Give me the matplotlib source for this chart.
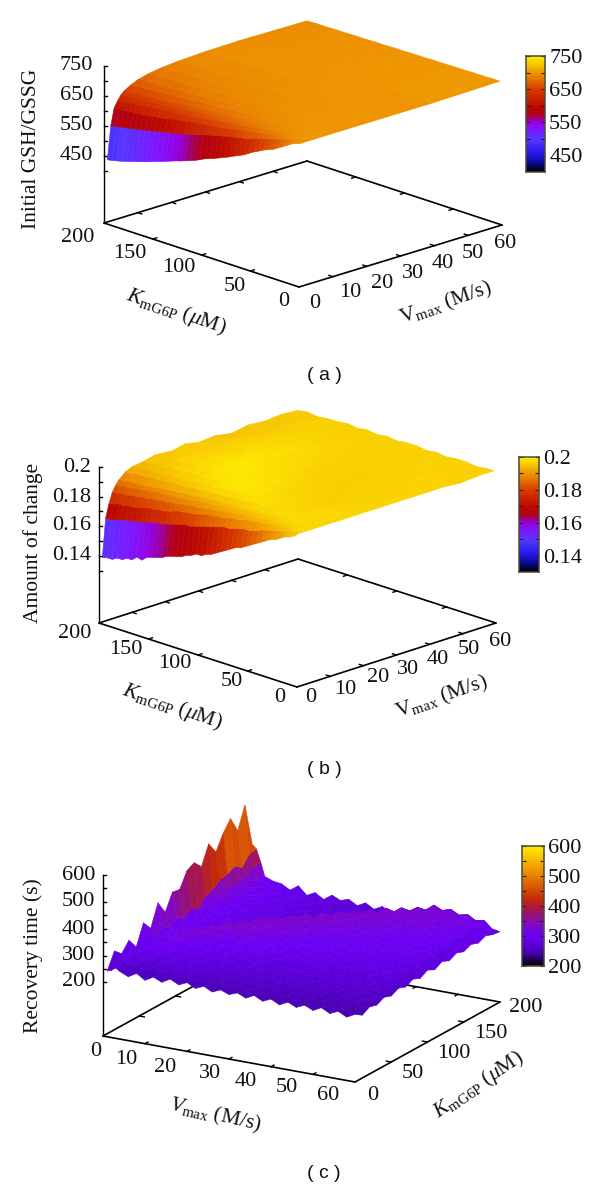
import numpy as np
import matplotlib
matplotlib.use("Agg")
import matplotlib.pyplot as plt
from matplotlib.colors import LinearSegmentedColormap, Normalize
from mpl_toolkits.mplot3d import proj3d

plt.rcParams['font.family'] = ['Liberation Serif', 'DejaVu Sans']
plt.rcParams['mathtext.fontset'] = 'custom'
plt.rcParams['mathtext.rm'] = 'Liberation Serif'
plt.rcParams['mathtext.it'] = 'Liberation Serif:italic'
plt.rcParams['mathtext.bf'] = 'Liberation Serif:bold'

# ---------- data ----------
KM_FINE = [200,195,190,185,180,175,170,165,160,155,150,145,140,135,130,125,120,115,110,105,100,
           95,90,85,80,75,70,65,60,55,50,45,40,35,30,25,20,15,10,5,2]
KM_COARSE = [200,190,180,170,160,150,140,130,120,110,100,90,80,70,60,50,40,30,20,10,2]
VMAX_NEAR = [1,2,3,4,5,6,8]
VMAX_FAR_A = [8,10,13,17,22,30,40,60]
VMAX_FAR_B = [8,10,13,17,22,26,30,35,40,45,50,55,60]

GSH_NEAR = [
 [434,437,441,445,450,455,460,465,470,476,482,487,493,499,505,510,516,522,528,536,544,550,556,563,570,577,585,592,600,610,620,628,637,644,650,660,670,680,690,696,699],
 [544,547,550,553,556,560,563,567,570,574,577,581,585,588,592,596,600,605,610,615,620,624,628,632,637,640,644,647,650,655,660,665,670,675,680,685,690,693,696,699,700],
 [600,602,603,605,606,608,610,612,614,617,620,622,625,628,631,634,637,640,642,644,646,648,650,653,656,660,663,667,670,673,676,680,683,686,690,692,694,696,698,699,700],
 [620,622,624,626,628,630,632,634,637,638,640,642,644,645,647,648,650,652,655,657,660,662,665,667,670,672,675,677,680,682,685,687,690,691,693,694,696,697,699,700,700],
 [637,638,639,641,643,644,645,646,648,649,650,652,654,656,658,660,662,664,666,668,670,672,674,676,678,680,682,684,686,688,690,691,692,693,695,696,697,698,700,700,700],
 [647,647,648,649,650,652,654,655,656,658,660,661,663,665,667,668,670,672,674,675,676,678,680,681,683,684,686,688,690,691,692,693,694,695,696,697,698,699,700,700,700],
 [660,661,662,663,665,666,668,669,670,671,672,673,675,676,678,679,680,681,682,683,685,686,687,688,690,690,691,692,693,694,695,695,696,697,698,698,699,699,700,700,700],
]
GSH_FAR = [
 [660,662,665,668,670,672,675,678,680,682,685,687,690,691,693,695,696,698,699,700,700],
 [670,672,674,675,678,680,682,683,686,687,690,691,692,694,695,696,697,698,700,700,700],
 [679,680,682,683,685,687,688,690,691,692,693,694,695,696,697,698,699,699,700,700,700],
 [686,687,688,689,691,691,692,693,694,694,695,696,697,697,698,699,699,700,700,700,700],
 [691,691,692,692,693,693,694,694,695,695,696,696,697,698,698,699,699,700,700,700,700],
 [695,695,696,696,696,697,697,697,698,698,698,699,699,699,700,700,700,700,700,700,700],
 [697,697,697,698,698,698,698,699,699,699,699,700,700,700,700,700,700,700,700,700,700],
 [694,695,695,696,696,697,697,698,698,699,699,700,700,701,701,702,702,703,703,704,704],
]

# amount of change, in thousandths
AMOUNT_NEAR = [
 [138,139,139,141,141,143,143,146,145,148,149,150,151,153,154,155,156,158,159,161,161,163,164,166,168,170,172,174,175,177,179,181,183,185,187,188,190,192,193,195,197],
 [164,164,165,166,167,168,168,169,170,171,172,172,173,174,175,176,177,177,178,179,180,181,182,183,184,184,185,186,187,187,188,189,190,191,192,193,194,195,196,197,197],
 [173,174,175,175,176,176,177,178,179,179,180,180,181,182,183,183,184,184,185,186,187,187,188,188,189,190,190,191,192,192,193,193,194,194,195,195,196,196,197,197,197],
 [180,180,181,181,182,182,183,183,184,184,185,185,186,186,187,187,188,188,189,189,190,190,191,191,192,192,193,193,194,194,194,195,195,195,196,196,197,197,197,197,197],
 [184,184,185,185,186,186,187,187,188,188,188,189,189,189,190,190,191,191,192,192,192,193,193,193,194,194,195,195,195,196,196,196,196,197,197,197,197,197,197,197,197],
 [187,187,188,188,188,188,189,189,190,190,191,191,191,192,192,192,193,193,193,194,194,194,194,195,195,195,195,196,196,196,196,197,197,197,197,198,198,198,198,197,197],
 [191,191,192,192,192,193,193,193,193,194,194,194,194,195,195,195,196,196,196,196,196,197,197,197,197,198,198,198,198,198,198,198,198,198,198,198,197,197,197,197,197],
]
AMOUNT_FAR = [
 [191,192,192,193,193,194,194,195,196,196,196,197,197,198,198,198,198,198,197,197,197],
 [193,193,194,194,195,195,196,197,197,198,198,198,199,198,198,197,197,197,197,197,197],
 [194,195,195,196,196,197,197,198,198,199,199,199,198,198,197,197,197,197,197,197,197],
 [196,195,196,197,197,198,198,199,199,199,199,198,198,197,197,197,196,197,197,197,197],
 [195,196,197,197,198,198,199,199,199,198,198,198,197,197,196,197,196,196,197,197,197],
 [197,196,196,197,198,198,199,199,198,198,198,197,197,196,197,196,196,197,196,197,197],
 [195,196,196,197,197,198,199,198,198,198,197,197,196,197,196,196,197,196,197,196,197],
 [196,195,197,197,198,198,198,198,197,197,197,196,197,196,196,197,196,197,196,197,197],
 [194,195,196,196,197,197,198,198,197,197,197,196,196,197,196,196,197,196,197,196,197],
 [196,196,195,197,197,197,197,197,197,196,197,196,197,196,197,196,196,197,197,196,197],
 [195,195,196,196,196,197,197,196,197,197,196,197,196,197,196,197,197,196,197,197,196],
 [196,196,196,197,197,196,196,197,196,196,197,196,197,196,196,197,196,197,196,196,197],
 [195,196,195,196,196,197,196,197,196,197,196,197,197,196,197,196,197,197,196,197,197],
]

KM_C = [0,10,20,30,40,50,60,70,80,90,100,110,120,130,140,150,160,170,180,190,200]
VMAX_C = [1,2,3,4,6,8,10,12,14,16,18,20,22,24,26,28,30,32,34,36,38,40,42,44,46,48,50,52,54,56,58,60]
RECOVERY = [
 [245,305,280,315,275,350,315,395,345,405,400,455,470,440,510,465,520,560,500,580,420],
 [250,285,270,290,275,295,280,305,290,310,295,315,300,335,345,365,370,385,365,400,405],
 [262,274,276,290,278,294,288,296,294,300,298,306,306,318,316,324,326,330,336,350,360],
 [252,262,290,288,304,292,310,294,314,298,316,302,318,306,326,314,330,316,322,308,308],
 [238,268,270,302,304,320,300,316,296,312,292,308,294,310,296,314,300,316,304,304,296],
 [256,252,276,280,306,310,326,306,310,290,306,288,304,290,306,292,308,294,306,288,292],
 [236,268,260,286,286,312,312,330,304,304,282,300,282,298,284,300,286,302,288,300,274],
 [254,248,278,270,294,292,318,316,334,306,302,278,298,276,294,280,296,282,298,284,296],
 [240,268,256,286,276,302,298,324,320,336,306,298,274,294,272,292,278,294,280,296,266],
 [258,250,276,264,292,284,308,304,326,322,332,300,292,270,290,270,290,276,292,278,282],
 [242,260,258,282,272,298,290,314,308,332,324,328,292,286,266,288,268,290,272,292,262],
 [256,250,268,264,288,278,304,296,322,314,334,326,320,284,282,264,286,266,288,270,284],
 [240,262,254,272,270,294,284,310,300,324,316,336,322,312,278,278,262,284,264,286,270],
 [254,246,268,262,280,276,298,290,314,304,328,320,338,316,304,272,274,266,282,262,280],
 [238,260,252,274,266,286,282,302,294,318,308,330,322,336,306,296,266,270,268,276,262],
 [252,244,266,258,280,272,292,286,306,298,322,312,332,324,332,296,288,262,268,266,278],
 [240,258,250,270,264,284,276,296,290,310,302,324,314,334,324,326,290,282,260,266,260],
 [252,242,264,256,274,268,288,280,300,292,312,304,326,318,334,322,316,282,276,256,276],
 [238,258,246,270,260,280,272,292,284,304,296,316,308,328,320,336,316,306,274,272,256],
 [254,242,262,250,274,264,286,276,296,288,308,300,318,310,330,322,336,308,298,268,270],
 [238,256,246,266,256,278,268,290,280,300,292,312,302,320,312,332,324,332,300,290,244],
 [252,240,260,252,270,262,284,272,294,284,304,294,314,304,322,314,334,324,324,292,262],
 [236,256,244,266,256,276,266,288,276,298,286,308,296,316,306,324,316,334,318,316,250],
 [252,238,260,248,272,258,280,270,292,280,300,290,310,298,316,308,326,318,336,312,268],
 [238,254,242,266,252,278,262,286,274,296,284,304,292,310,300,318,310,328,320,336,252],
 [252,240,258,246,272,256,282,268,290,278,298,288,306,294,312,302,320,312,330,322,274],
 [238,256,242,262,252,276,262,286,272,294,282,302,290,308,298,314,306,322,316,332,290],
 [254,238,258,246,268,254,280,266,290,276,298,284,304,292,310,300,316,308,324,316,300],
 [238,254,242,262,250,272,258,284,268,292,278,300,286,306,294,312,302,318,310,324,278],
 [252,240,256,246,268,254,276,262,288,270,294,278,302,288,306,296,312,304,320,306,292],
 [236,252,242,260,248,270,256,280,264,290,272,298,280,302,288,308,294,314,298,312,268],
 [252,234,250,242,256,246,260,250,264,252,268,254,270,258,272,262,274,264,276,266,262],
]

VMAX_TICKS = [0,10,20,30,40,50,60]
KM_TICKS = [0,50,100,150,200]
Z_A_LABELS = ['750','650','550','450']
Z_B_LABELS = ['0.2','0.18','0.16','0.14']
Z_C_LABELS = ['600','500','400','300','200']

# ---------- palettes ----------
def palette(anchors):
    return LinearSegmentedColormap.from_list('pm3d', [(p, tuple(c/255 for c in rgb)) for p, rgb in anchors], N=512)

CMAP_AB = palette([(0,(0,0,0)),(.07,(10,10,130)),(.14,(30,20,230)),(.28,(85,55,255)),(.37,(130,20,255)),
                   (.43,(150,0,220)),(.47,(165,0,90)),(.5,(180,0,20)),(.57,(188,10,0)),(.71,(215,60,0)),
                   (.86,(238,150,0)),(1,(255,240,0))])
CMAP_C = palette([(0,(0,0,0)),(.07,(45,0,110)),(.1,(72,0,172)),(.15,(86,0,208)),(.2,(98,0,228)),(.25,(108,0,245)),
                  (.35,(130,10,190)),(.45,(160,20,90)),(.55,(195,40,10)),(.75,(235,130,0)),(1,(255,240,0))])

fig = plt.figure(figsize=(6, 11.89), dpi=100, facecolor='white')
W, H = 600, 1189
FS = 16

def ptext(x, y, s, **kw):
    kw.setdefault('ha', 'center'); kw.setdefault('va', 'center'); kw.setdefault('fontsize', FS)
    kw.setdefault('color', '#111111')
    fig.text(x/W, 1-y/H, s, **kw)

def panel3d(meshes, zlim, cmap, norm, o, vend, kend, zpx, zmaj):
    A = np.array([vend[0]-o[0], o[1]-vend[1]], float)
    B = np.array([kend[0]-o[0], o[1]-kend[1]], float)
    sin_e = np.sqrt(-A[1]*B[1]/(A[0]*B[0]))
    el = np.arcsin(sin_e)
    s = -np.sign(A[0]); c = s*(A[1]/A[0])/sin_e
    az = np.arctan2(s, c)
    Lx = abs(A[0]/np.sin(az)); Ly = abs(B[0]/np.cos(az)); Lz = zpx/np.cos(el)

    side = 500.0
    ax = fig.add_axes([0.1, 0.1, side/W, side/H], projection='3d', proj_type='ortho')
    ax.computed_zorder = False
    ax.set_axis_off()
    ax.patch.set_visible(False)

    for V, K, Z in meshes:
        Z = np.asarray(Z, float)
        VV, KK = np.meshgrid(np.asarray(V, float), np.asarray(K, float), indexing='ij')
        mean = (Z[:-1,:-1]+Z[1:,:-1]+Z[:-1,1:]+Z[1:,1:])/4
        fc = cmap(norm(mean))
        surf = ax.plot_surface(VV, KK, Z, rstride=1, cstride=1, facecolors=fc, shade=False,
                               linewidth=0.4, antialiased=True, zorder=3)
        surf.set_edgecolor(fc.reshape(-1, 4))

    zb, zt = zlim
    vmax, kmax = 60, 200
    lw = 1.2
    for xs, ys in [((0,vmax),(0,0)), ((0,vmax),(kmax,kmax)), ((0,0),(0,kmax)), ((vmax,vmax),(0,kmax))]:
        ax.plot(xs, ys, (zb, zb), color='black', lw=lw, zorder=1, solid_capstyle='round')
    for v in VMAX_TICKS[1:-1]:
        ax.plot((v,v),(0,4),(zb,zb), color='black', lw=1, zorder=1)
        ax.plot((v,v),(kmax,kmax-4),(zb,zb), color='black', lw=1, zorder=1)
    for k in KM_TICKS[1:-1]:
        ax.plot((0,1.2),(k,k),(zb,zb), color='black', lw=1, zorder=1)
        ax.plot((vmax,vmax-1.2),(k,k),(zb,zb), color='black', lw=1, zorder=1)

    corner_k = kmax if kend[0] < o[0] else 0
    ax.plot((0,0),(corner_k,corner_k),(zb,zt), color='black', lw=1, zorder=1)
    M = np.array([[A[0]/vmax, B[0]/kmax],[A[1]/vmax, B[1]/kmax]])
    dv, dk = np.linalg.solve(M, [3.0, 0.0])
    for z in zmaj:
        ax.plot((0,dv),(corner_k,corner_k+dk),(z,z), color='black', lw=1, zorder=1)

    ax.view_init(elev=np.degrees(el), azim=np.degrees(az))
    ax.set_box_aspect((Lx, Ly, Lz))
    ax.set_xlim(0, vmax, view_margin=0)
    ax.set_ylim(0, kmax, view_margin=0)
    ax.set_zlim(zb, zt, view_margin=0)

    def disp(x, y, z):
        X, Y, _ = proj3d.proj_transform(x, y, z, ax.get_proj())
        return ax.transData.transform((X, Y))
    ax.apply_aspect()
    p0, p1 = disp(0,0,zb), disp(vmax,0,zb)
    side *= np.hypot(*A)/np.hypot(*(p1-p0))
    ax.set_position([0.1, 0.1, side/W, side/H])
    p0 = disp(0,0,zb)
    target = np.array([o[0], H-o[1]], float)
    d = target-p0
    ax.set_position([0.1+d[0]/W, 0.1+d[1]/H, side/W, side/H])
    return ax

def colorbar(x0, y0, x1, y1, lo, hi, cmap, norm, major, minor, labels):
    ax = fig.add_axes([x0/W, 1-y1/H, (x1-x0)/W, (y1-y0)/H])
    ax.imshow(np.linspace(lo, hi, 256)[:, None], origin='lower', extent=[0,1,lo,hi], aspect='auto', cmap=cmap, norm=norm)
    ax.set_xticks([])
    ax.yaxis.tick_right()
    ax.set_yticks(major); ax.set_yticklabels(labels, fontsize=FS, color='#111111')
    ax.set_yticks(minor, minor=True)
    ax.tick_params(axis='y', which='both', direction='in', length=3, width=0.8, left=True, right=True, pad=3, color='#222222')
    for s in ax.spines.values():
        s.set_color('#4a4a3c'); s.set_linewidth(1.1)

KLAB = r"$\mathit{K}_{\mathrm{mG6P}}$ ($\mathit{\mu}$M)"
VLAB_UP = r"$\mathrm{V}_{\mathrm{max}}$ (M/s)"
VLAB_IT = r"$\mathit{V}_{\mathrm{max}}$ (M/s)"
CAPTION = dict(family=['Liberation Sans'], fontsize=14)

# ---------- panel a ----------
norm_a = Normalize(400, 750)
panel3d([(VMAX_NEAR, KM_FINE, GSH_NEAR), (VMAX_FAR_A, KM_COARSE, GSH_FAR)], (227, 750), CMAP_AB, norm_a,
        (299,287), (502,225), (104,223), 157, [750,700,650,600,550,500,450,400])
for y, s in zip((66,96,126,156), Z_A_LABELS):
    ptext(93, y, s, ha='right')
for (x,y), s in zip([(284,302),(235,286),(179,268),(130,253),(78,238)], KM_TICKS):
    ptext(x, y, str(s))
for (x,y), s in zip([(315,303),(350,293),(382,283),(413,274),(443,264),(473,254),(505,244)], VMAX_TICKS):
    ptext(x, y, str(s))
ptext(32, 149, 'Initial GSH/GSSG', rotation=90, fontsize=15.5)
ptext(176, 312, KLAB, rotation=-19, fontsize=15.5)
ptext(446, 303, VLAB_UP, rotation=19, fontsize=15.5)
ptext(324, 375, '( a )', **CAPTION)
colorbar(526, 56, 545, 172, 400, 750, CMAP_AB, norm_a, [450,550,650,750], [500,600,700], Z_A_LABELS[::-1])

# ---------- panel b ----------
norm_b = Normalize(.13, .2)
panel3d([(VMAX_NEAR, KM_FINE, np.asarray(AMOUNT_NEAR, float)/1000),
         (VMAX_FAR_B, KM_COARSE, np.asarray(AMOUNT_FAR, float)/1000)], (.0946, .2), CMAP_AB, norm_b,
        (297,687), (496,623), (99,623), 156, [.2,.19,.18,.17,.16,.15,.14,.13])
for y, s in zip((467,497,526,556), Z_B_LABELS):
    ptext(91.5, y, s, ha='right')
for (x,y), s in zip([(280,697),(231.5,681),(175,664),(126,649),(75,633)], KM_TICKS):
    ptext(x, y, str(s))
for (x,y), s in zip([(311,698),(345,689),(378,678),(408,669),(438,660),(469,650),(500,641)], VMAX_TICKS):
    ptext(x, y, str(s))
ptext(33, 543, 'Amount of change', rotation=90, fontsize=15.5)
ptext(172, 707, KLAB, rotation=-19, fontsize=15.5)
ptext(442, 697, VLAB_UP, rotation=19, fontsize=15.5)
ptext(324, 770, '( b )', **CAPTION)
colorbar(519, 457, 539, 572, .13, .2, CMAP_AB, norm_b, [.14,.16,.18,.2], [.15,.17,.19], Z_B_LABELS[::-1])

# ---------- panel c ----------
norm_c = Normalize(200, 600)
panel3d([(VMAX_C, KM_C, RECOVERY)], (0, 600), CMAP_C, norm_c, (103,1036), (355,1082), (248,956), 161,
        [600,550,500,450,400,350,300,250,200])
for y, s in zip((875,902,929,956,982), Z_C_LABELS):
    ptext(95, y, s, ha='right')
for (x,y), s in zip([(96,1052),(126,1059),(165,1067),(210,1074),(246,1081),(287,1088),(328,1095)], VMAX_TICKS):
    ptext(x, y, str(s))
for (x,y), s in zip([(373,1095),(413,1073),(454,1053),(491,1033),(526,1007)], KM_TICKS):
    ptext(x, y, str(s))
ptext(33, 956, 'Recovery time (s)', rotation=90, fontsize=15.5)
ptext(215, 1115, VLAB_IT, rotation=-13, fontsize=15.5)
ptext(479, 1085, KLAB, rotation=34, fontsize=15.5)
ptext(324, 1173, '( c )', **CAPTION)
colorbar(522, 846, 543.5, 966, 200, 600, CMAP_C, norm_c, [200,300,400,500,600], [250,350,450,550], Z_C_LABELS[::-1])

fig.savefig('out.png', dpi=100)
